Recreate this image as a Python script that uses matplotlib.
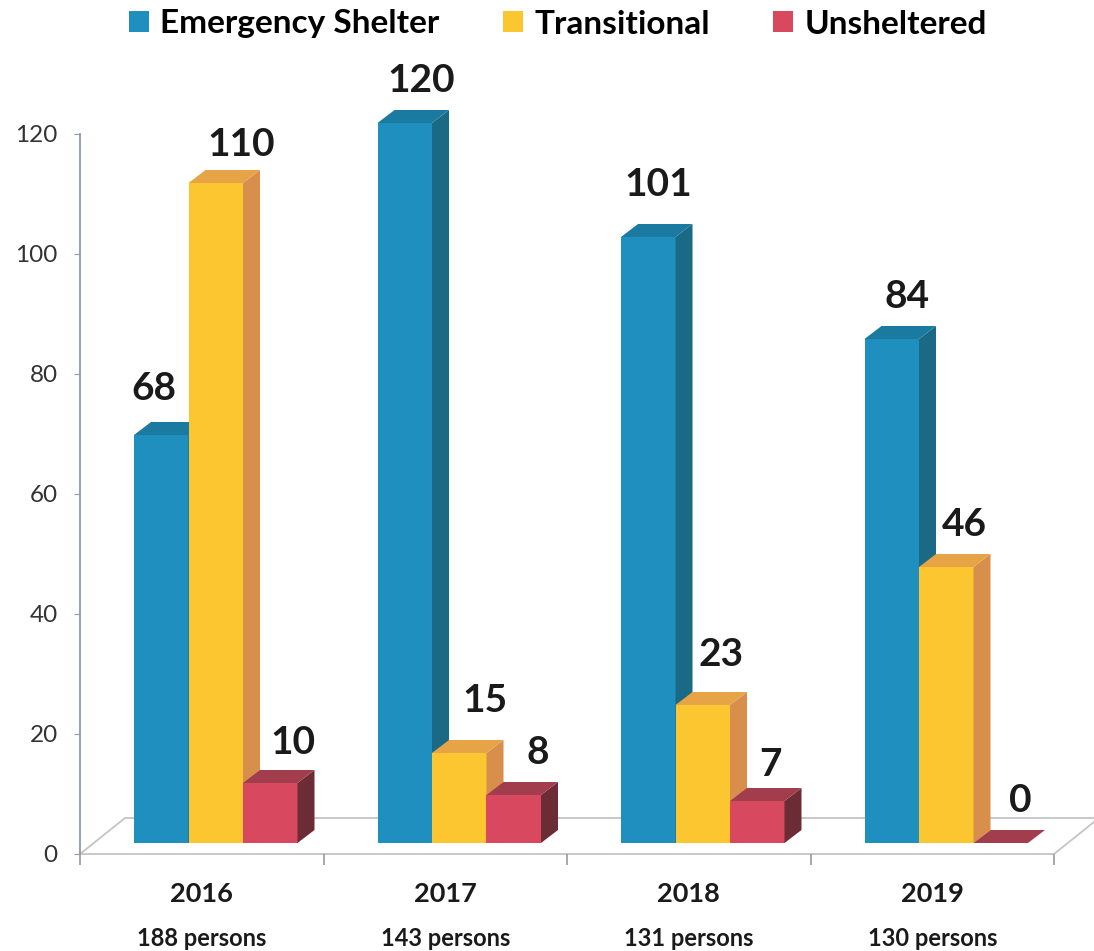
import matplotlib
matplotlib.use("Agg")
import matplotlib.pyplot as plt
from matplotlib.patches import Polygon, Rectangle, Patch
from matplotlib.transforms import ScaledTranslation

plt.rcParams['font.family'] = ['Lato', 'DejaVu Sans']

# ---- data ----
years = ["2016", "2017", "2018", "2019"]
totals = ["188 persons", "143 persons", "131 persons", "130 persons"]
series_names = ["Emergency Shelter", "Transitional", "Unsheltered"]
emergency = [68, 120, 101, 84]
transitional = [110, 15, 23, 46]
unsheltered = [10, 8, 7, 0]
y_ticks = [0, 20, 40, 60, 80, 100, 120]

series = [emergency, transitional, unsheltered]

# value-label placement (pixels from the top-front centre of each bar)
label_offsets = [
    [(-7, 47), (25, 38), (23, 41)],
    [(16, 43), (26, 53), (24, 43)],
    [(10, 52), (18, 50), (13, 36)],
    [(15, 43), (18, 43), (20, 43)],
]

# face colours: front, side, top
palette = [
    ("#1f8fbf", "#1a6a86", "#1b7a9f"),
    ("#fbc630", "#d88f4b", "#e6a446"),
    ("#d8485e", "#6b2c36", "#a23d4d"),
]

W, H, DPI = 1094, 951, 100
fig = plt.figure(figsize=(W / DPI, H / DPI), dpi=DPI)
fig.patch.set_facecolor("white")

ax_left, ax_right, ax_top, ax_bottom = 80, 1054, 134, 854
ax = fig.add_axes([ax_left / W, (H - ax_bottom) / H,
                   (ax_right - ax_left) / W, (ax_bottom - ax_top) / H])
ax.set_xlim(-0.5, len(years) - 0.5)
ax.set_ylim(0, 120)

px_per_x = (ax_right - ax_left) / len(years)
px_per_y = (ax_bottom - ax_top) / 120.0

# pseudo-3D geometry (pixels)
bar_w = 54.5 / px_per_x
depth_dx = 17 / px_per_x
depth_dy = 13 / px_per_y
floor_dx = 45 / px_per_x
floor_dy = 36 / px_per_y

shift = ax.transData + ScaledTranslation(14 / DPI, 11 / DPI, fig.dpi_scale_trans)

# floor of the plot area
x0, x1 = -0.5, len(years) - 0.5
floor_col = "#c4c4c4"
ax.add_patch(Polygon([(x0, 0), (x1, 0), (x1 + floor_dx, floor_dy), (x0 + floor_dx, floor_dy)],
                     closed=True, facecolor="white", edgecolor=floor_col, lw=1.3,
                     clip_on=False, zorder=1))

# bars, drawn left to right so nearer faces overlap correctly
for ci in range(len(years)):
    for si, vals in enumerate(series):
        v = vals[ci]
        front, side, top = palette[si]
        xl = ci + (si - 1) * bar_w - bar_w / 2
        xr = xl + bar_w
        z = 3 + ci * 3 + si
        ax.add_patch(Rectangle((xl, 0), bar_w, v, facecolor=front, edgecolor="none",
                               transform=shift, clip_on=False, zorder=z))
        ax.add_patch(Polygon([(xr, 0), (xr, v), (xr + depth_dx, v + depth_dy), (xr + depth_dx, depth_dy)],
                             closed=True, facecolor=side, edgecolor="none",
                             transform=shift, clip_on=False, zorder=z))
        ax.add_patch(Polygon([(xl, v), (xr, v), (xr + depth_dx, v + depth_dy), (xl + depth_dx, v + depth_dy)],
                             closed=True, facecolor=top, edgecolor="none",
                             transform=shift, clip_on=False, zorder=z))
        ox, oy = label_offsets[ci][si]
        ax.annotate(str(v), xy=((xl + xr) / 2, v), xycoords=shift,
                    xytext=(ox, oy), textcoords="offset pixels",
                    ha="center", va="center", fontsize=28, fontweight="bold",
                    color="#1a1a1a", zorder=50, annotation_clip=False)

# axes styling
for s in ("top", "right", "bottom"):
    ax.spines[s].set_visible(False)
ax.spines["left"].set_color("#8a9ab3")
ax.spines["left"].set_linewidth(1.3)
ax.set_yticks(y_ticks)
ax.tick_params(axis="y", direction="out", length=4, color="#8a9ab3",
               labelsize=17.5, labelcolor="#333333", pad=12)
ax.set_xticks([i - 0.5 for i in range(len(years) + 1)])
ax.set_xticklabels([])
ax.tick_params(axis="x", direction="out", length=8, color="#9a9a9a", width=1.2)
ax.set_facecolor("none")

for i, (yr, tot) in enumerate(zip(years, totals)):
    ax.annotate(yr, xy=(i, 0), xycoords="data", xytext=(0, -40), textcoords="offset pixels",
                ha="center", va="center", fontsize=19.5, fontweight="bold", color="#1a1a1a",
                annotation_clip=False)
    ax.annotate(tot, xy=(i, 0), xycoords="data", xytext=(0, -85), textcoords="offset pixels",
                ha="center", va="center", fontsize=17, fontweight="bold", color="#1a1a1a",
                annotation_clip=False)

handles = [Patch(facecolor=palette[i][0], edgecolor="none") for i in range(3)]
fig.legend(handles, series_names, loc="center", bbox_to_anchor=(558 / W, 1 - 24 / H),
           ncol=3, frameon=False, prop={"weight": "bold", "size": 24},
           handlelength=0.6, handleheight=0.6, handletextpad=0.35, columnspacing=1.9)

fig.savefig("out.png", dpi=DPI, facecolor="white")
